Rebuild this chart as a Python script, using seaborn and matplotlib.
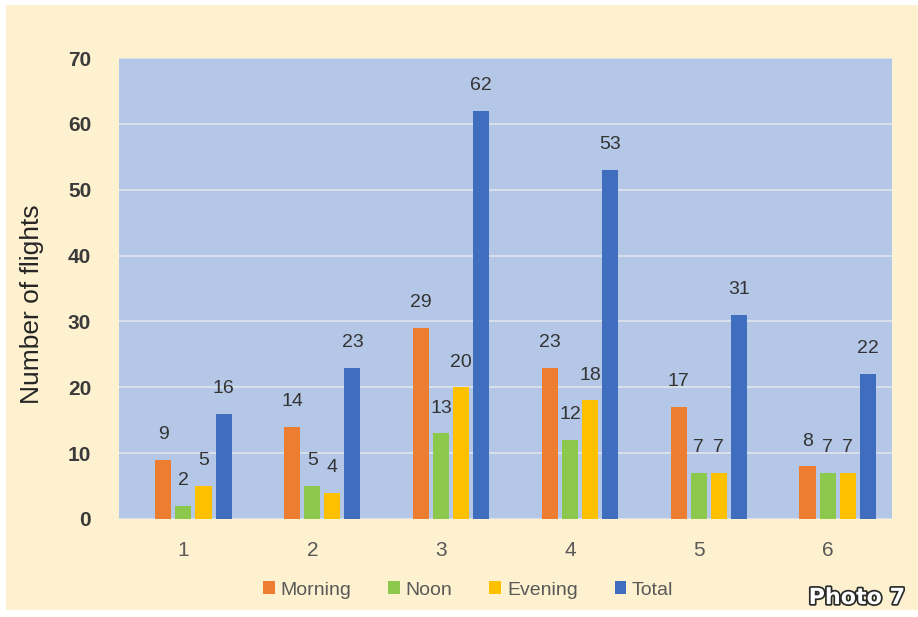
import numpy as np
import pandas as pd
import matplotlib
matplotlib.use("Agg")
import matplotlib.pyplot as plt
import matplotlib.patheffects as pe
from matplotlib.patches import Rectangle
import seaborn as sns

# ---------------- data ------------------ #
groups = ["1", "2", "3", "4", "5", "6"]
morning = [9, 14, 29, 23, 17, 8]
noon = [2, 5, 13, 12, 7, 7]
evening = [5, 4, 20, 18, 7, 7]
total = [16, 23, 62, 53, 31, 22]
series = ["Morning", "Noon", "Evening", "Total"]
yticks = [0, 10, 20, 30, 40, 50, 60, 70]

# the source chart keeps an empty first slot in every group (bars sit right of the tick)
pad = [0, 0, 0, 0, 0, 0]

df = pd.DataFrame({
    "group": groups * 5,
    "series": ["_pad"] * 6 + ["Morning"] * 6 + ["Noon"] * 6 + ["Evening"] * 6 + ["Total"] * 6,
    "flights": pad + morning + noon + evening + total,
})

colors = {"_pad": (0, 0, 0, 0), "Morning": "#ED7D31", "Noon": "#8CC84B",
          "Evening": "#FFC000", "Total": "#3F6EBE"}

cream = "#FEF1CF"
font = ["Liberation Sans", "DejaVu Sans"]

sns.set_style("white")
fig = plt.figure(figsize=(9.18, 6.17), dpi=100)
fig.patch.set_facecolor("white")
fig.patches.append(Rectangle((6 / 918, 7 / 617), 1, 1 - 12 / 617, transform=fig.transFigure,
                             facecolor=cream, edgecolor="none", zorder=-10))

ax = fig.add_axes([119 / 918, 1 - 519 / 617, (892 - 119) / 918, (519 - 58) / 617])
ax.set_facecolor("#B4C7E7")

sns.barplot(data=df, x="group", y="flights", hue="series",
            hue_order=["_pad"] + series, palette=colors, saturation=1,
            width=0.78, gap=0.2, legend=False, ax=ax, zorder=3,
            linewidth=0, edgecolor="none")

# value labels
for cont in ax.containers[1:]:
    ax.bar_label(cont, padding=12, fontsize=14, color="#333333", family=font)

ax.set_ylim(0, 70)
ax.set_yticks(yticks)
ax.yaxis.grid(True, color="#D9E0EC", linewidth=1.4, zorder=0)
ax.set_axisbelow(True)
for s in ax.spines.values():
    s.set_visible(False)
ax.tick_params(axis="both", length=0)
ax.tick_params(axis="y", pad=20)
ax.tick_params(axis="x", pad=16)
for lab in ax.get_yticklabels():
    lab.set_fontsize(15)
    lab.set_fontweight("bold")
    lab.set_color("#3A3A3A")
    lab.set_family(font)
for lab in ax.get_xticklabels():
    lab.set_fontsize(15)
    lab.set_color("#595959")
    lab.set_family(font)

ax.set_xlabel("")
ax.set_ylabel("Number of flights", fontsize=19, color="#262626", family=font)
ax.yaxis.set_label_coords(-0.097, 0.466)

fig.legend(handles=ax.containers[1:], labels=series, loc="center",
           bbox_to_anchor=(0.51, 1 - 590 / 617), ncol=4, frameon=False,
           handlelength=0.6, handleheight=0.6, handletextpad=0.3, columnspacing=1.9,
           prop={"family": font, "size": 14}, labelcolor="#595959")

fig.text(857 / 918, 1 - 598 / 617, "Photo 7", ha="center", va="center", fontsize=16,
         fontweight="bold", color="white", family=["DejaVu Sans"],
         path_effects=[pe.withStroke(linewidth=2.5, foreground="#2A2A2A")])

fig.savefig("out.png", dpi=100, facecolor=fig.get_facecolor())
